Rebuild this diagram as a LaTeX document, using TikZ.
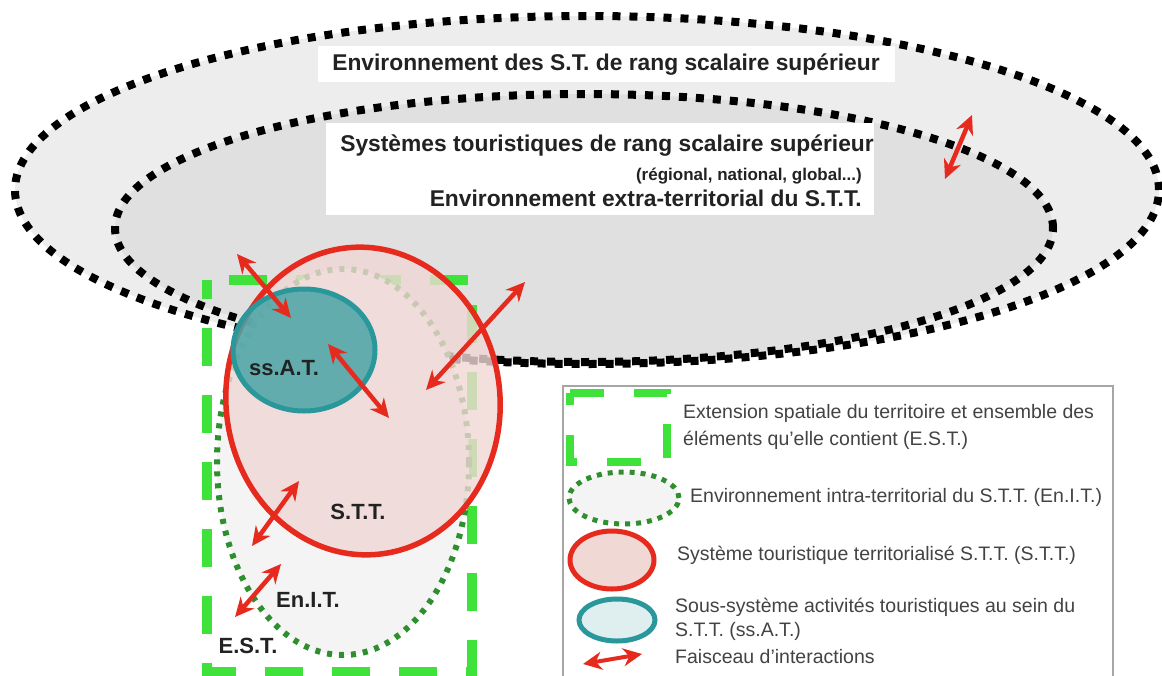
\documentclass[tikz,border=0pt]{standalone}
\usepackage{fontspec}
\setmainfont{Liberation Sans}
\usetikzlibrary{arrows.meta}
\definecolor{cRed}{HTML}{E62A1E}
\definecolor{cPink}{HTML}{F0D8D5}
\definecolor{cTeal}{HTML}{2A979B}
\definecolor{cTealFill}{HTML}{4AA4A6}
\definecolor{cGreen}{HTML}{3EE23A}
\definecolor{cDkGreen}{HTML}{2F8F2F}
\definecolor{cOuter}{HTML}{EDEDED}
\definecolor{cInner}{HTML}{E0E0E0}
\definecolor{cText}{HTML}{222222}

\begin{document}
\begin{tikzpicture}[x=1pt, y=-1pt,
  blk/.style={black, line width=8pt, dash pattern=on 8pt off 9pt},
  est/.style={draw=cGreen, line width=10pt, dash pattern=on 38pt off 29pt, dash phase=45pt},
  enit/.style={draw=cDkGreen, line width=6pt, dash pattern=on 5pt off 7pt, fill=gray!9},
  stt/.style={draw=cRed, line width=5.5pt, fill=cPink, fill opacity=0.8},
  ssat/.style={draw=cTeal, line width=5pt, fill=cTealFill, fill opacity=0.85},
  fx/.style={cRed, line width=4.5pt, {Stealth[length=19pt,width=18pt]}-{Stealth[length=19pt,width=18pt]}},
  big/.style={font=\fontsize{22.8}{26}\selectfont\bfseries, text=cText, inner sep=0pt},
  lab/.style={font=\fontsize{22}{25}\selectfont\bfseries, text=cText, inner sep=0pt},
  leg/.style={font=\fontsize{19.5}{27}\selectfont, text=cText!85, inner sep=0pt, align=left, anchor=west},
]
  \useasboundingbox (0,0) rectangle (1162,675);
  \clip (0,0) rectangle (1162,675);
  % ---- environments of higher scalar rank ----
  \fill[cOuter] (587,190) ellipse [x radius=572pt, y radius=174pt];
  \fill[cInner] (584,228) ellipse [x radius=469pt, y radius=134pt];
  \draw[blk] (587,190) ellipse [x radius=572pt, y radius=174pt];
  \draw[blk] (584,228) ellipse [x radius=469pt, y radius=134pt];
  \node[fill=white, minimum width=577pt, minimum height=36pt, inner sep=0pt] (boxTop) at (606,64) {};
  \node[fill=white, minimum width=548pt, minimum height=92pt, inner sep=0pt] (boxLow) at (600,169) {};
  \node[big] (tEnvSup) at (606,65) {Environnement des S.T. de rang scalaire supérieur};
  \node[big, anchor=east] (tSysSup) at (874,146) {Systèmes touristiques de rang scalaire supérieur};
  \node[font=\fontsize{17}{20}\selectfont\bfseries, text=cText, inner sep=0pt, anchor=east] (tRank) at (862,176) {(régional, national, global...)};
  \node[big, anchor=east] (tExtra) at (862,198) {Environnement extra-territorial du S.T.T.};
  % ---- territory, systems ----
  \draw[est] (207,280) -- (472,280) -- (472,672) -- (207,672) -- cycle;
  \draw[enit] (343,462) ellipse [x radius=126pt, y radius=193pt];
  \draw[stt, rotate around={6:(363,401)}] (363,401) ellipse [x radius=137pt, y radius=154pt];
  \draw[ssat] (304,350) ellipse [x radius=71pt, y radius=61pt];
  \node[lab] (lSsat) at (284,368) {ss.A.T.};
  \node[lab] (lStt) at (358,512) {S.T.T.};
  \node[lab] (lEnit) at (308,600) {En.I.T.};
  \node[lab] (lEst) at (248,646) {E.S.T.};
  % ---- interactions ----
  \foreach \n/\ax/\ay/\bx/\by in {1/237/254/291/318, 2/328/344/389/418, 3/525/282/426/390,
      4/299/481/252/546, 5/281/564/235/617, 6/972/115/945/179}{
    \coordinate (f\n a) at (\ax,\ay); \coordinate (f\n b) at (\bx,\by);
    \draw[fx] (f\n a) -- (f\n b);
  }
  % ---- legend ----
  \draw[draw=gray!70, line width=1.5pt, fill=white] (563,386) rectangle (1113,700);
  \draw[est, line width=8pt, dash pattern=on 34pt off 30pt, dash phase=0pt] (570,393) -- (667,393) -- (667,462) -- (570,462) -- cycle;
  \draw[enit, line width=5pt, dash pattern=on 5pt off 6pt] (624,498) ellipse [x radius=55pt, y radius=26pt];
  \draw[stt, line width=5pt, fill opacity=1] (612,560) ellipse [x radius=42pt, y radius=29pt];
  \draw[cTeal, line width=5pt, fill=cTeal!15] (617,620) ellipse [x radius=38pt, y radius=21pt];
  \coordinate (lgA) at (583,664); \coordinate (lgB) at (642,654);
  \draw[fx, line width=4pt] (lgA) -- (lgB);
  \node[leg] (tEst) at (683,427) {Extension spatiale du territoire et ensemble des\\éléments qu'elle contient (E.S.T.)};
  \node[leg] (tEnit) at (690,497) {Environnement intra-territorial du S.T.T. (En.I.T.)};
  \node[leg] (tStt) at (677,555) {Système touristique territorialisé S.T.T. (S.T.T.)};
  \node[leg, font=\fontsize{19.5}{24}\selectfont] (tSsat) at (675,619) {Sous-système activités touristiques au sein du\\S.T.T. (ss.A.T.)};
  \node[leg] (tFx) at (675,657) {Faisceau d'interactions};
\end{tikzpicture}
\end{document}
